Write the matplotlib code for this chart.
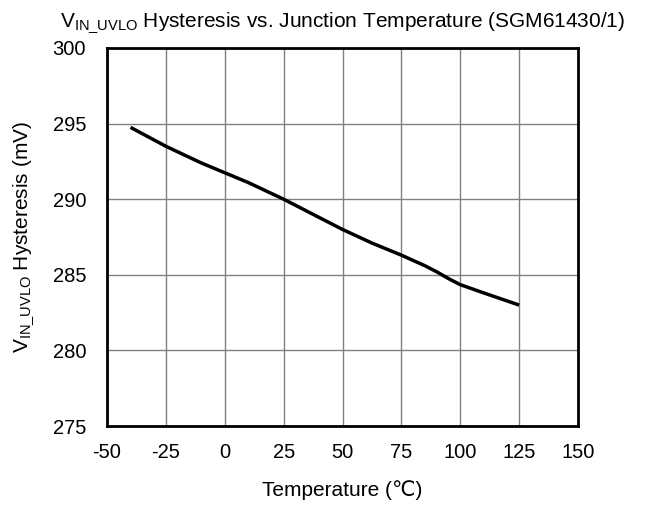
import matplotlib
matplotlib.use("Agg")
import matplotlib.pyplot as plt

plt.rcParams['font.family'] = ['Liberation Sans', 'DejaVu Sans']
plt.rcParams['mathtext.fontset'] = 'custom'
plt.rcParams['mathtext.rm'] = 'Liberation Sans'
plt.rcParams['mathtext.it'] = 'Liberation Sans'
plt.rcParams['axes.unicode_minus'] = False

# data
temp = [-40, -25, -10, 0, 10, 25, 37.5, 50, 62.5, 75, 85, 90, 95, 100, 110, 125]
hyst = [294.75, 293.5, 292.4, 291.75, 291.1, 290.0, 289.0, 288.0, 287.1, 286.3,
        285.6, 285.2, 284.75, 284.35, 283.8, 283.0]

xticks = [-50, -25, 0, 25, 50, 75, 100, 125, 150]
yticks = [275, 280, 285, 290, 295, 300]

fig = plt.figure(figsize=(6.47, 5.09), dpi=100)
ax = fig.add_axes([0.1654, 0.163, 0.728, 0.7427])

ax.plot(temp, hyst, color='black', linewidth=2.5, solid_capstyle='butt')

ax.set_xlim(-50, 150)
ax.set_ylim(275, 300)
ax.set_xticks(xticks)
ax.set_yticks(yticks)
ax.grid(True, color='#808080', linewidth=1.0)
ax.tick_params(axis='x', length=0, labelsize=14.5, pad=12)
ax.tick_params(axis='y', length=0, labelsize=14.5, pad=15)
for s in ax.spines.values():
    s.set_linewidth(2.0)
    s.set_color('black')

ax.set_title(r'V$_{\mathrm{IN\_UVLO}}$ Hysteresis vs. Junction Temperature (SGM61430/1)',
             fontsize=15, pad=15)
ax.set_xlabel('Temperature (℃)', fontsize=15, labelpad=13)
ax.set_ylabel(r'V$_{\mathrm{IN\_UVLO}}$ Hysteresis (mV)', fontsize=15, labelpad=12)

fig.savefig('out.png', dpi=100)
